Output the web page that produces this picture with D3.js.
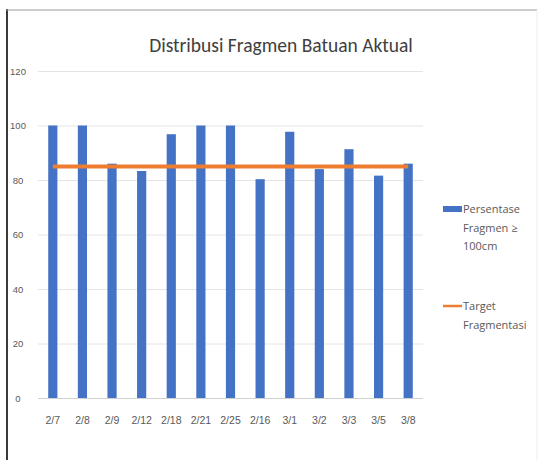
<!DOCTYPE html>
<html>
<head>
<meta charset="utf-8">
<script src="https://cdn.jsdelivr.net/npm/d3@7"></script>
<style>
  html, body { margin: 0; padding: 0; background: #fff; }
  svg { display: block; font-family: Calibri, Carlito, Lato, "Open Sans", sans-serif; }
</style>
</head>
<body>
<svg id="chart" width="541" height="460"></svg>
<script>
// Tanggal pengukuran
const categories = ["2/7", "2/8", "2/9", "2/12", "2/18", "2/21", "2/25", "2/16", "3/1", "3/2", "3/3", "3/5", "3/8"];
// Persentase fragmen ≥ 100cm
const persentase = [100, 100, 86, 83.3, 96.8, 100, 100, 80.3, 97.7, 84, 91.3, 81.6, 86];
// Target fragmentasi
const target = [85, 85, 85, 85, 85, 85, 85, 85, 85, 85, 85, 85, 85];
const yTicks = [0, 20, 40, 60, 80, 100, 120];

const svg = d3.select("#chart");
const W = 541, H = 460;
const plot = { left: 38, right: 423, top: 71, bottom: 398 };

// Chart frame
svg.append("line").attr("x1", 7).attr("x2", 7).attr("y1", 9).attr("y2", H)
  .attr("stroke", "#3a3a3a").attr("stroke-width", 2);
svg.append("line").attr("x1", 6).attr("x2", 537).attr("y1", 10).attr("y2", 10)
  .attr("stroke", "#9a9a9a").attr("stroke-width", 1);
svg.append("line").attr("x1", 537).attr("x2", 537).attr("y1", 10).attr("y2", H)
  .attr("stroke", "#ededed").attr("stroke-width", 1);

const x = d3.scaleBand().domain(categories).range([plot.left, plot.right]).paddingInner(0.69).paddingOuter(0.345);
const y = d3.scaleLinear().domain([0, 120]).range([plot.bottom, plot.top]);

// Title
svg.append("text").attr("x", 281).attr("y", 52).attr("text-anchor", "middle")
  .attr("font-size", 19.5).attr("fill", "#404040").text("Distribusi Fragmen Batuan Aktual");

// Gridlines
svg.append("g").selectAll("line").data(yTicks).join("line")
  .attr("x1", plot.left).attr("x2", plot.right)
  .attr("y1", d => y(d) + 0.5).attr("y2", d => y(d) + 0.5)
  .attr("stroke", d => d === 0 ? "#d0d0d0" : "#e4e4e4").attr("stroke-width", 1);

// Y axis labels
const yAxis = d3.axisLeft(y).tickValues(yTicks).tickSize(0).tickPadding(0);
const gy = svg.append("g").attr("transform", "translate(24,0)").call(yAxis);
gy.select(".domain").remove();
gy.selectAll("text").attr("font-size", 9.5).attr("fill", "#595959").attr("font-family", null)
  .attr("text-anchor", "middle").attr("x", -6);

// X axis labels
const xAxis = d3.axisBottom(x).tickSize(0).tickPadding(0);
const gx = svg.append("g").attr("transform", `translate(0,${plot.bottom + 19})`).call(xAxis);
gx.select(".domain").remove();
gx.selectAll("text").attr("font-size", 10.5).attr("fill", "#595959").attr("font-family", null);

// Bars
svg.append("g").selectAll("rect").data(persentase).join("rect")
  .attr("x", (d, i) => x(categories[i]))
  .attr("width", x.bandwidth())
  .attr("y", d => y(d))
  .attr("height", d => y(0) - y(d))
  .attr("fill", "#4472C4");

// Target line
const line = d3.line().x((d, i) => x(categories[i]) + x.bandwidth() / 2).y(d => y(d));
svg.append("path").datum(target).attr("d", line)
  .attr("fill", "none").attr("stroke", "#ED7D31").attr("stroke-width", 4);

// Legend
const lg = svg.append("g").attr("font-size", 11).attr("fill", "#595959")
  .attr("font-family", "'Open Sans', sans-serif");
lg.append("rect").attr("x", 443).attr("y", 206).attr("width", 19).attr("height", 6).attr("fill", "#4472C4");
const t1 = lg.append("text").attr("x", 463).attr("y", 213);
["Persentase", "Fragmen ≥", "100cm"].forEach((s, i) =>
  t1.append("tspan").attr("x", 463).attr("dy", i === 0 ? 0 : 18.5).text(s));
lg.append("line").attr("x1", 443).attr("x2", 462).attr("y1", 306).attr("y2", 306)
  .attr("stroke", "#ED7D31").attr("stroke-width", 2.5);
const t2 = lg.append("text").attr("x", 463).attr("y", 310);
["Target", "Fragmentasi"].forEach((s, i) =>
  t2.append("tspan").attr("x", 463).attr("dy", i === 0 ? 0 : 18.5).text(s));
</script>
</body>
</html>
